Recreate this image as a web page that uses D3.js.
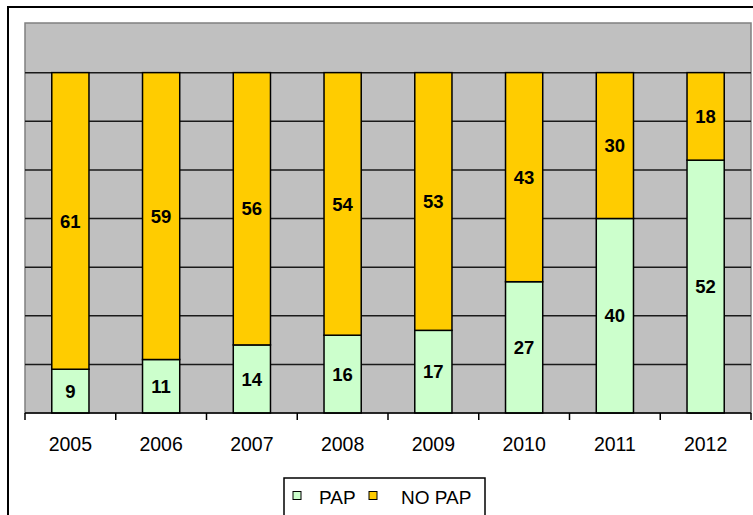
<!DOCTYPE html>
<html>
<head>
<meta charset="utf-8">
<script src="https://cdn.jsdelivr.net/npm/d3@7"></script>
<style>
  body { margin: 0; background: #fff; }
  svg { display: block; font-family: Arial, "Liberation Sans", sans-serif; }
</style>
</head>
<body>
<div id="chart"></div>
<script>
// chart data
const years = ["2005", "2006", "2007", "2008", "2009", "2010", "2011", "2012"];
const pap = [9, 11, 14, 16, 17, 27, 40, 52];
const noPap = [61, 59, 56, 54, 53, 43, 30, 18];
const seriesNames = ["PAP", "NO PAP"];
const seriesColors = ["#CCFFCC", "#FFCC00"];
const gridValues = [10, 20, 30, 40, 50, 60, 70];

const width = 753, height = 515;
const plot = { left: 25, right: 751, top: 24, bottom: 413 };

const svg = d3.select("#chart").append("svg")
    .attr("width", width)
    .attr("height", height);

// outer chart border (right and bottom edges fall outside the picture)
svg.append("rect")
    .attr("x", 8).attr("y", 7)
    .attr("width", 760).attr("height", 520)
    .attr("fill", "#fff")
    .attr("stroke", "#000")
    .attr("stroke-width", 2);

const x = d3.scaleBand()
    .domain(years)
    .range([plot.left, plot.right])
    .paddingInner(0.59)
    .paddingOuter(0.295);

const y = d3.scaleLinear()
    .domain([0, 80])
    .range([plot.bottom, plot.top]);

// plot area
svg.append("rect")
    .attr("x", plot.left).attr("y", plot.top - 1)
    .attr("width", plot.right - plot.left)
    .attr("height", plot.bottom - plot.top + 1)
    .attr("fill", "#C0C0C0")
    .attr("stroke", "#808080")
    .attr("stroke-width", 1.5);

// gridlines
svg.append("g")
    .selectAll("line")
    .data(gridValues)
    .join("line")
    .attr("x1", plot.left).attr("x2", plot.right)
    .attr("y1", d => y(d)).attr("y2", d => y(d))
    .attr("stroke", "#1a1a1a")
    .attr("stroke-width", 1.5);

// stacked bars
const rows = years.map((yr, i) => ({ year: yr, PAP: pap[i], "NO PAP": noPap[i] }));
const stacked = d3.stack().keys(seriesNames)(rows);

const layer = svg.append("g")
    .selectAll("g")
    .data(stacked)
    .join("g")
    .attr("fill", (d, i) => seriesColors[i]);

layer.selectAll("rect")
    .data(d => d)
    .join("rect")
    .attr("x", d => x(d.data.year))
    .attr("width", x.bandwidth())
    .attr("y", d => y(d[1]))
    .attr("height", d => y(d[0]) - y(d[1]))
    .attr("stroke", "#000")
    .attr("stroke-width", 1.5);

layer.selectAll("text")
    .data(d => d)
    .join("text")
    .attr("x", d => x(d.data.year) + x.bandwidth() / 2)
    .attr("y", d => y((d[0] + d[1]) / 2))
    .attr("dy", "0.36em")
    .attr("text-anchor", "middle")
    .attr("fill", "#000")
    .attr("font-weight", "bold")
    .attr("font-size", "18.5px")
    .text(d => d[1] - d[0]);

// category axis
const xAxis = svg.append("g")
    .attr("transform", `translate(0,${plot.bottom})`);

xAxis.append("line")
    .attr("x1", plot.left).attr("x2", plot.right)
    .attr("stroke", "#000").attr("stroke-width", 1.5);

const step = x.step();
xAxis.selectAll(".tick")
    .data(d3.range(years.length + 1))
    .join("line")
    .attr("class", "tick")
    .attr("x1", i => plot.left + i * step)
    .attr("x2", i => plot.left + i * step)
    .attr("y1", 0).attr("y2", 7)
    .attr("stroke", "#000").attr("stroke-width", 1.5);

xAxis.selectAll("text")
    .data(years)
    .join("text")
    .attr("x", d => x(d) + x.bandwidth() / 2)
    .attr("y", 38)
    .attr("text-anchor", "middle")
    .attr("font-size", "19.5px")
    .attr("fill", "#000")
    .text(d => d);

// legend
const legend = svg.append("g");
legend.append("rect")
    .attr("x", 284).attr("y", 478)
    .attr("width", 201).attr("height", 40)
    .attr("fill", "#fff")
    .attr("stroke", "#000")
    .attr("stroke-width", 1.5);

const legendPos = [{ box: 293, text: 319 }, { box: 369, text: 401 }];
const item = legend.selectAll(".item")
    .data(seriesNames)
    .join("g")
    .attr("class", "item");

item.append("rect")
    .attr("x", (d, i) => legendPos[i].box)
    .attr("y", 491.5)
    .attr("width", 8).attr("height", 8)
    .attr("fill", (d, i) => seriesColors[i])
    .attr("stroke", "#000")
    .attr("stroke-width", 1);

item.append("text")
    .attr("x", (d, i) => legendPos[i].text)
    .attr("y", 504)
    .attr("font-size", "19px")
    .attr("fill", "#000")
    .text(d => d);
</script>
</body>
</html>
